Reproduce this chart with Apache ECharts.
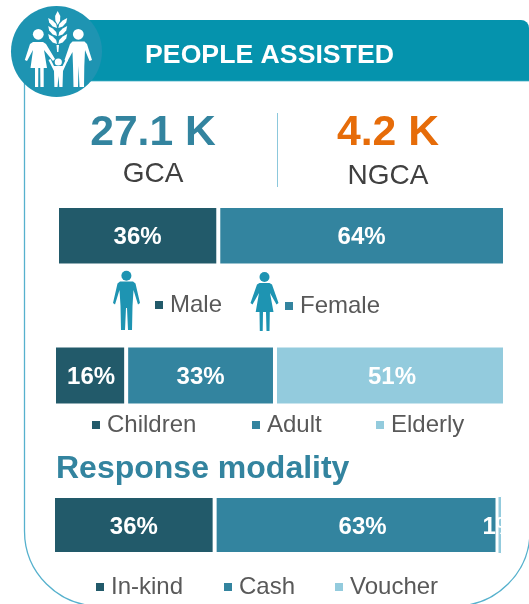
<!DOCTYPE html>
<html><head><meta charset="utf-8">
<style>html,body{margin:0;padding:0;background:#fff}#c{width:529px;height:604px}</style>
<script src="https://cdn.jsdelivr.net/npm/echarts@6/dist/echarts.min.js"></script>
</head><body><div id="c"></div>
<script>
const sexNames = ['Male', 'Female'];
const sexValues = [36, 64];
const ageNames = ['Children', 'Adult', 'Elderly'];
const ageValues = [16, 33, 51];
const modalityNames = ['In-kind', 'Cash', 'Voucher'];
const modalityValues = [36, 63, 1];
const palette = ['#225a6a', '#33849f', '#93cbdd'];
const F = '"Liberation Sans", Arial, sans-serif';

const grids = [
  {left: 57, top: 206, width: 448, height: 59.5},
  {left: 54, top: 345.5, width: 451, height: 60},
  {left: 53, top: 496, width: 449, height: 58}
];
const labelShiftX = {'Children': 1, 'Elderly': 2, 'Cash': 6.5};
const groups = [[sexNames, sexValues], [ageNames, ageValues], [modalityNames, modalityValues]];
const series = [];
groups.forEach(([names, vals], g) => {
  names.forEach((n, i) => {
    const tiny = vals[i] < 3;
    series.push({
      type: 'bar', name: n, stack: 's' + g, xAxisIndex: g, yAxisIndex: g,
      data: [vals[i]], barWidth: '100%',
      itemStyle: {color: palette[i], borderColor: '#fff', borderWidth: tiny ? 1 : 2},
      label: {show: true, position: 'inside', formatter: '{c}%', color: '#fff', fontFamily: F,
               fontWeight: 'bold', fontSize: 24, textBorderWidth: 0, offset: [labelShiftX[n] || 0, 2]},
      emphasis: {disabled: true}, animation: false
    });
  });
});
const legendPos = {
  'Male': [155, 305], 'Female': [285, 306],
  'Children': [92, 425], 'Adult': [252, 425], 'Elderly': [376, 425],
  'In-kind': [96, 587], 'Cash': [224, 587], 'Voucher': [335, 587]
};
const legends = Object.keys(legendPos).map(n => ({
  data: [n], left: legendPos[n][0], top: legendPos[n][1] - 14, padding: 0, orient: 'horizontal',
  icon: 'rect', itemWidth: 8, itemHeight: 8, selectedMode: false,
  itemStyle: {borderWidth: 0},
  textStyle: {color: '#595959', fontFamily: F, fontSize: 24, lineHeight: 28, padding: [0, 0, 0, 2]}
}));

const TEAL = '#1e94b2', W = '#fff';
const poly = (pts, fill) => ({type: 'polygon', shape: {points: pts}, style: {fill}, z: 5});
const circ = (cx, cy, r, fill) => ({type: 'circle', shape: {cx, cy, r}, style: {fill}, z: 5});
const txt = (text, x, y, font, fill, align) => ({type: 'text', x, y, z: 6,
  style: {text, font, fill, align: align || 'center', verticalAlign: 'middle'}});

function leaf(y, s) {
  const c = 57.7;
  return poly([[c + s * 0.7, y + 7], [c + s * 5, y + 5.5], [c + s * 8.5, y + 1.5], [c + s * 9.5, y - 3], [c + s * 5, y - 0.5], [c + s * 1.5, y + 3]], W);
}
const graphics = [
  {type: 'rect', shape: {x: 24.5, y: 70, width: 505.5, height: 536, r: [0, 0, 75, 75]},
   style: {fill: 'none', stroke: '#56b1cd', lineWidth: 1.3}, z: 1},
  {type: 'rect', shape: {x: 60, y: 20, width: 469, height: 61, r: [0, 8, 0, 0]},
   style: {fill: '#0593ad', stroke: '#7cc3d4', lineWidth: 0}, z: 2},
  {type: 'line', shape: {x1: 60, y1: 81.3, x2: 529, y2: 81.3}, style: {stroke: '#8fd0de', lineWidth: 0.8}, z: 3},
  {type: 'line', shape: {x1: 277.5, y1: 113, x2: 277.5, y2: 187}, style: {stroke: '#8cc8dc', lineWidth: 1}, z: 3},
  circ(56.5, 51.5, 45.5, TEAL),
  // wheat
  poly([[57.7, 11], [60.3, 16], [60, 21], [57.7, 25], [55.4, 21], [55.1, 16]], W),
  leaf(21, -1), leaf(21, 1), leaf(29, -1), leaf(29, 1), leaf(37, -1), leaf(37, 1),
  poly([[56.5, 45], [59, 45], [58.4, 52], [57.1, 52]], W),
  // woman
  circ(38.3, 34.3, 5.4, W),
  poly([[33, 42], [43, 42], [46, 44], [55, 59], [53, 61], [44, 50], [47, 68], [43.7, 68], [43.7, 87], [40.4, 87], [40.2, 68], [38.3, 68], [38.2, 87], [35, 87], [35, 68], [30.5, 68], [33, 50], [27, 61], [24.8, 60], [30, 44]], W),
  // man
  circ(78.3, 34.3, 5.4, W),
  poly([[72.5, 41.5], [84.5, 41.5], [87, 44], [92, 60], [89.5, 61], [85, 50], [84.3, 66], [84, 87], [79.5, 87], [78.5, 66], [78, 87], [73.5, 87], [73, 66], [72.5, 52], [67, 62], [64.5, 60], [70, 44]], W),
  // child
  circ(58.3, 62, 3.6, W),
  poly([[48.5, 60], [50.5, 59], [54, 66], [62.5, 66], [66, 59], [68, 60], [63, 71], [62.5, 87], [59.3, 87], [58.5, 76], [57.5, 87], [54.4, 87], [54, 71]], W),
  // male person
  circ(126.4, 275.8, 5, TEAL),
  poly([[120, 281.5], [133, 281.5], [135.5, 283.5], [140, 303], [138, 304.5], [133.5, 290], [132.5, 306], [132, 330], [128, 330], [127, 308], [126, 308], [125, 330], [121, 330], [120.5, 306], [119.5, 290], [115, 304.5], [113, 303], [117.5, 283.5]], TEAL),
  // female person
  circ(264.5, 277, 5, TEAL),
  poly([[259.5, 283], [269.5, 283], [272, 284.5], [278.5, 303], [276.5, 304.5], [270, 293], [273.5, 312], [269.8, 312], [269.5, 331], [266.5, 331], [266, 312], [263, 312], [262.7, 331], [259.8, 331], [259.5, 312], [255.7, 312], [259, 293], [252.5, 304.5], [250.5, 303], [257, 284.5]], TEAL),
  txt('PEOPLE ASSISTED', 269.5, 55.5, 'bold 26.67px ' + F, '#fff'),
  txt('27.1 K', 153, 133, 'bold 42.67px ' + F, '#33849f'),
  txt('GCA', 153, 174, '28px ' + F, '#404040'),
  txt('4.2 K', 388, 133, 'bold 42.67px ' + F, '#e66c09'),
  txt('NGCA', 388, 176, '28px ' + F, '#404040'),
  txt('Response modality', 56, 469, 'bold 32px ' + F, '#33849f', 'left')
];

const chart = echarts.init(document.getElementById('c'), null, {renderer: 'canvas'});
chart.setOption({
  animation: false,
  grid: grids,
  xAxis: grids.map((_, i) => ({type: 'value', gridIndex: i, min: 0, max: 100, show: false})),
  yAxis: grids.map((_, i) => ({type: 'category', gridIndex: i, data: [''], show: false})),
  legend: legends,
  series,
  graphic: {elements: graphics}
});
</script></body></html>
